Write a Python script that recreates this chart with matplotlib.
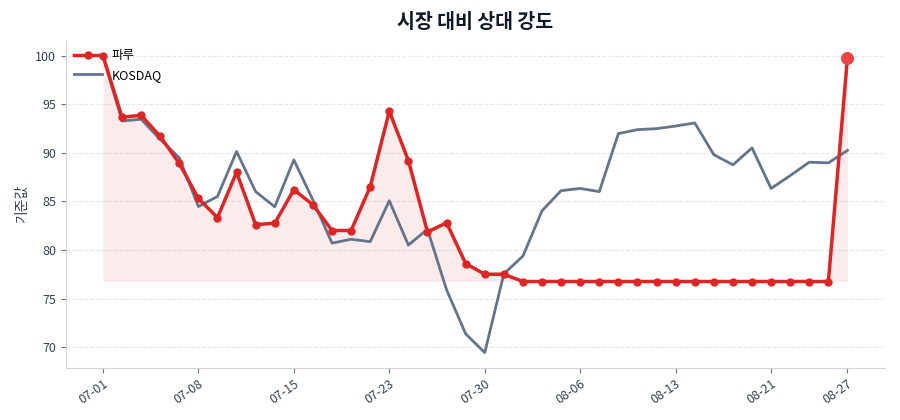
import matplotlib
matplotlib.use("Agg")
import matplotlib.pyplot as plt
import numpy as np

plt.rcParams['font.family'] = ['Noto Sans CJK KR', 'DejaVu Sans']

# trading days 07-01 .. 08-27
dates = ["07-01", "07-02", "07-03", "07-04", "07-07", "07-08", "07-09", "07-10",
         "07-11", "07-14", "07-15", "07-16", "07-17", "07-18", "07-21", "07-23",
         "07-24", "07-25", "07-28", "07-29", "07-30", "07-31", "08-01", "08-04",
         "08-05", "08-06", "08-07", "08-08", "08-11", "08-12", "08-13", "08-14",
         "08-18", "08-19", "08-20", "08-21", "08-22", "08-25", "08-26", "08-27"]

paru = [100.0, 93.65, 93.86, 91.69, 88.9, 85.3, 83.33, 88.0, 82.6, 82.75,
        86.2, 84.65, 82.0, 82.0, 86.5, 94.28, 89.2, 81.85, 82.8, 78.6,
        77.5, 77.5, 76.75, 76.75, 76.75, 76.75, 76.75, 76.75, 76.75, 76.75,
        76.75, 76.75, 76.75, 76.75, 76.75, 76.75, 76.75, 76.75, 76.75, 99.8]

kosdaq = [100.0, 93.27, 93.45, 91.38, 89.48, 84.47, 85.5, 90.13, 86.0, 84.44,
          89.27, 85.13, 80.7, 81.1, 80.85, 85.06, 80.5, 82.13, 75.9, 71.37,
          69.43, 77.54, 79.37, 84.03, 86.1, 86.33, 86.0, 91.97, 92.38, 92.48,
          92.75, 93.07, 89.8, 88.76, 90.5, 86.33, 87.65, 89.03, 88.96, 90.24]

tick_idx = [0, 5, 10, 15, 20, 25, 30, 35, 39]

x = np.arange(len(dates))
paru = np.array(paru)

fig, ax = plt.subplots(figsize=(9, 4.2), dpi=100)
fig.subplots_adjust(left=0.073, right=0.983, top=0.903, bottom=0.125)

ax.fill_between(x, paru, paru.min(), color='#dc2626', alpha=0.09, linewidth=0)
ax.plot(x, paru, color='#dc2626', linewidth=2.5, marker='o', markersize=5, label='파루', zorder=3)
ax.plot(x, kosdaq, color='#64748b', linewidth=2, label='KOSDAQ', zorder=2)
ax.scatter([x[-1]], [paru[-1]], s=70, color='#ef4444', zorder=4)

ax.set_title('시장 대비 상대 강도', fontsize=14, fontweight='bold', color='#111827', pad=9)
ax.set_ylabel('기준값', fontsize=10, color='#374151')

ax.set_xticks(x[tick_idx])
ax.set_xticklabels([dates[i] for i in tick_idx], rotation=35, ha='right', rotation_mode='anchor')
ax.set_yticks([70, 75, 80, 85, 90, 95, 100])
ax.tick_params(colors='#374151', labelsize=9)
ax.tick_params(axis='both', color='#6b7280')

ax.grid(axis='y', linestyle='--', color='#e5e7eb', linewidth=0.8)
ax.set_axisbelow(True)
for s in ['top', 'right']:
    ax.spines[s].set_visible(False)
for s in ['left', 'bottom']:
    ax.spines[s].set_color('#d1d5db')

ax.legend(loc='upper left', frameon=False, fontsize=9, borderaxespad=0.3, handlelength=2.2)

fig.savefig('out.png')
